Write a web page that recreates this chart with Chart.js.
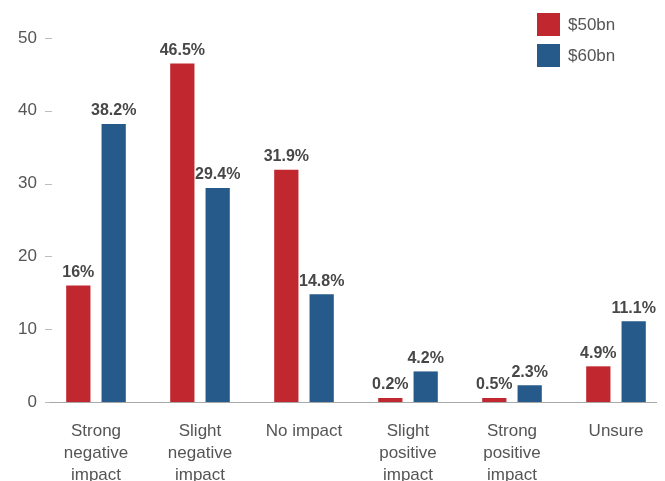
<!DOCTYPE html>
<html>
<head>
<meta charset="utf-8">
<script src="https://cdn.jsdelivr.net/npm/chart.js@4.4.1/dist/chart.umd.min.js"></script>
<style>
    html, body { margin: 0; padding: 0; background: #ffffff; overflow: hidden; }
    #wrap { width: 670px; height: 481px; position: relative; }
</style>
</head>
<body>
<div id="wrap"><canvas id="chart"></canvas></div>
<script>
(() => {
    'use strict';

    const categories = [
        ['Strong', 'negative', 'impact'],
        ['Slight', 'negative', 'impact'],
        ['No impact'],
        ['Slight', 'positive', 'impact'],
        ['Strong', 'positive', 'impact'],
        ['Unsure'],
    ];
    const seriesNames = ['$50bn', '$60bn'];
    const values50bn = [16, 46.5, 31.9, 0.2, 0.5, 4.9];
    const values60bn = [38.2, 29.4, 14.8, 4.2, 2.3, 11.1];
    const labels50bn = ['16%', '46.5%', '31.9%', '0.2%', '0.5%', '4.9%'];
    const labels60bn = ['38.2%', '29.4%', '14.8%', '4.2%', '2.3%', '11.1%'];
    const yTicks = [0, 10, 20, 30, 40, 50];

    const red = '#c1272f';
    const blue = '#255a8a';
    const textGrey = '#555555';
    const fontFamily = '"Liberation Sans", Arial, sans-serif';

    // short tick marks on the value axis and the grey baseline
    const axisLines = {
        id: 'axisLines',
        beforeDatasetsDraw(chart) {
            const context = chart.ctx;
            const y = chart.scales.y;
            context.save();
            context.strokeStyle = '#bdbdbd';
            context.lineWidth = 1;
            y.ticks.forEach((tick) => {
                const py = Math.round(y.getPixelForValue(tick.value)) + 0.5;
                context.beginPath();
                context.moveTo(45, py);
                context.lineTo(52, py);
                context.stroke();
            });
            const zero = Math.round(y.getPixelForValue(0)) + 0.5;
            context.strokeStyle = '#a8a8a8';
            context.beginPath();
            context.moveTo(49, zero);
            context.lineTo(657, zero);
            context.stroke();
            context.restore();
        },
    };

    const valueLabels = {
        id: 'valueLabels',
        afterDatasetsDraw(chart) {
            const context = chart.ctx;
            const texts = [labels50bn, labels60bn];
            chart.data.datasets.forEach((dataset, datasetIndex) => {
                chart.getDatasetMeta(datasetIndex).data.forEach((bar, index) => {
                    context.save();
                    context.fillStyle = '#474747';
                    context.font = `bold 16px ${fontFamily}`;
                    context.textAlign = 'center';
                    context.textBaseline = 'bottom';
                    context.fillText(texts[datasetIndex][index], bar.x, bar.y - 5);
                    context.restore();
                });
            });
        },
    };

    const cornerLegend = {
        id: 'cornerLegend',
        afterDraw(chart) {
            const context = chart.ctx;
            chart.data.datasets.forEach((dataset, index) => {
                const top = 13 + index * 31;
                context.save();
                context.fillStyle = dataset.backgroundColor;
                context.fillRect(537, top, 23, 23);
                context.fillStyle = textGrey;
                context.font = `17px ${fontFamily}`;
                context.textBaseline = 'middle';
                context.fillText(dataset.label, 568, top + 12);
                context.restore();
            });
        },
    };

    new Chart(document.getElementById('chart'), {
        type: 'bar',
        data: {
            labels: categories,
            datasets: [
                {
                    label: seriesNames[0],
                    data: values50bn,
                    backgroundColor: red,
                    categoryPercentage: 0.68,
                    barPercentage: 0.686,
                    minBarLength: 4,
                },
                {
                    label: seriesNames[1],
                    data: values60bn,
                    backgroundColor: blue,
                    categoryPercentage: 0.68,
                    barPercentage: 0.686,
                    minBarLength: 4,
                },
            ],
        },
        plugins: [axisLines, valueLabels, cornerLegend],
        options: {
            responsive: true,
            maintainAspectRatio: false,
            animation: false,
            layout: {
                padding: { top: 38, right: 2, left: 0, bottom: 0 },
            },
            plugins: {
                legend: { display: false },
                tooltip: { enabled: false },
            },
            scales: {
                x: {
                    afterFit: (axis) => {
                        axis.height = 79;
                    },
                    grid: { display: false, drawTicks: false },
                    border: { display: false },
                    ticks: {
                        color: textGrey,
                        font: { size: 17, family: fontFamily, lineHeight: 1.3 },
                        padding: 18,
                        maxRotation: 0,
                        autoSkip: false,
                    },
                },
                y: {
                    min: 0,
                    max: 50,
                    afterBuildTicks: (axis) => {
                        axis.ticks = yTicks.map((value) => ({ value }));
                    },
                    afterFit: (axis) => {
                        axis.width = 44;
                    },
                    grid: { display: false, drawTicks: false },
                    border: { display: false },
                    ticks: {
                        color: textGrey,
                        font: { size: 17, family: fontFamily },
                        padding: 7,
                    },
                },
            },
        },
    });
})();
</script>
</body>
</html>
